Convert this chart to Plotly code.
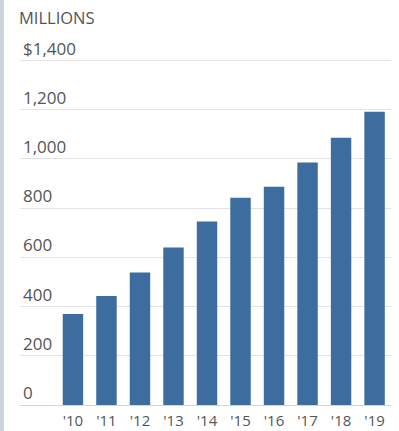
import plotly.graph_objects as go

years = ["'10", "'11", "'12", "'13", "'14", "'15", "'16", "'17", "'18", "'19"]
values = [370, 443, 538, 640, 746, 842, 887, 985, 1086, 1192]
tick_vals = [0, 200, 400, 600, 800, 1000, 1200, 1400]
tick_text = ["0", "200", "400", "600", "800", "1,000", "1,200", "$1,400"]

fig = go.Figure(go.Bar(
    x=years, y=values,
    marker=dict(color="#3d6d9f", line=dict(width=0)),
    width=0.61,
))

fig.update_layout(
    width=399, height=431,
    margin=dict(l=20, r=8, t=58, b=26, autoexpand=False),
    paper_bgcolor="#ffffff", plot_bgcolor="#ffffff",
    font=dict(family="Open Sans", size=14, color="#555555"),
    showlegend=False,
    annotations=[dict(
        text="MILLIONS", xref="paper", yref="paper", x=-0.008, y=1.0,
        yshift=41, xanchor="left", yanchor="middle", showarrow=False,
        font=dict(family="Open Sans", size=16.5, color="#555555"),
    )],
    shapes=[dict(
        type="rect", xref="paper", yref="paper", x0=-0.054, x1=-0.043,
        y0=-0.08, y1=1.18, fillcolor="#cdd2dc", line=dict(width=0), layer="below",
    )],
)
fig.update_xaxes(
    type="category", range=[-1.58, 9.49], showgrid=False, zeroline=False,
    showline=False, ticks="", tickfont=dict(size=15, color="#555555"),
    ticklabelstandoff=5, automargin=False, fixedrange=True,
)
fig.update_yaxes(
    range=[0, 1410], tickvals=tick_vals, ticktext=tick_text,
    ticklabelposition="inside top", ticklabeloverflow="allow",
    showgrid=True, gridcolor="#e3e3e3",
    gridwidth=1, zeroline=True, zerolinecolor="#d5d5d5", zerolinewidth=1,
    showline=False, ticks="", tickfont=dict(size=17, color="#555555"),
    automargin=False, fixedrange=True,
)

fig.write_html("out.html", config={"displayModeBar": False},
               post_script="document.body.style.margin='0';")
